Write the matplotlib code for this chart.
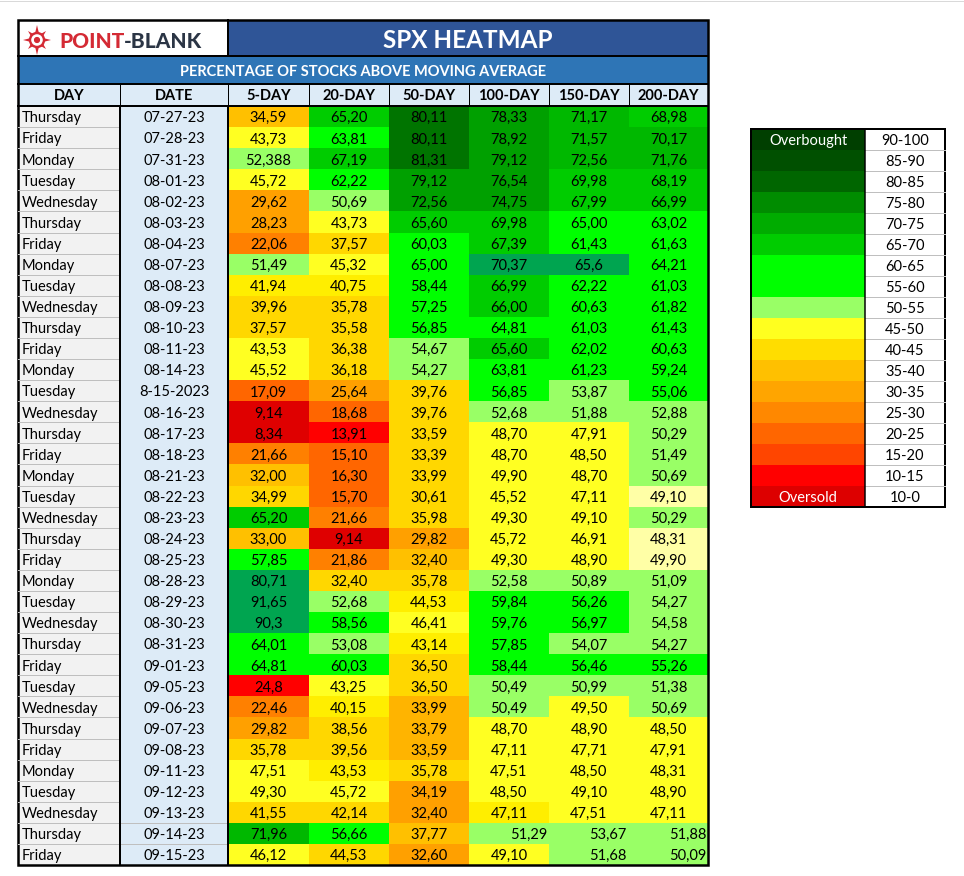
import matplotlib
matplotlib.use("Agg")
import matplotlib.pyplot as plt
from matplotlib.patches import Rectangle, Circle, Polygon

plt.rcParams['font.family'] = ['Lato', 'DejaVu Sans']

# ---- data ----
days = ["Thursday", "Friday", "Monday", "Tuesday", "Wednesday", "Thursday", "Friday",
        "Monday", "Tuesday", "Wednesday", "Thursday", "Friday", "Monday", "Tuesday",
        "Wednesday", "Thursday", "Friday", "Monday", "Tuesday", "Wednesday", "Thursday",
        "Friday", "Monday", "Tuesday", "Wednesday", "Thursday", "Friday", "Tuesday",
        "Wednesday", "Thursday", "Friday", "Monday", "Tuesday", "Wednesday", "Thursday",
        "Friday"]
dates = ["07-27-23", "07-28-23", "07-31-23", "08-01-23", "08-02-23", "08-03-23", "08-04-23",
         "08-07-23", "08-08-23", "08-09-23", "08-10-23", "08-11-23", "08-14-23", "8-15-2023",
         "08-16-23", "08-17-23", "08-18-23", "08-21-23", "08-22-23", "08-23-23", "08-24-23",
         "08-25-23", "08-28-23", "08-29-23", "08-30-23", "08-31-23", "09-01-23", "09-05-23",
         "09-06-23", "09-07-23", "09-08-23", "09-11-23", "09-12-23", "09-13-23", "09-14-23",
         "09-15-23"]
columns = ["5-DAY", "20-DAY", "50-DAY", "100-DAY", "150-DAY", "200-DAY"]

day5 = ["34,59", "43,73", "52,388", "45,72", "29,62", "28,23", "22,06", "51,49", "41,94",
        "39,96", "37,57", "43,53", "45,52", "17,09", "9,14", "8,34", "21,66", "32,00",
        "34,99", "65,20", "33,00", "57,85", "80,71", "91,65", "90,3", "64,01", "64,81",
        "24,8", "22,46", "29,82", "35,78", "47,51", "49,30", "41,55", "71,96", "46,12"]
day20 = ["65,20", "63,81", "67,19", "62,22", "50,69", "43,73", "37,57", "45,32", "40,75",
         "35,78", "35,58", "36,38", "36,18", "25,64", "18,68", "13,91", "15,10", "16,30",
         "15,70", "21,66", "9,14", "21,86", "32,40", "52,68", "58,56", "53,08", "60,03",
         "43,25", "40,15", "38,56", "39,56", "43,53", "45,72", "42,14", "56,66", "44,53"]
day50 = ["80,11", "80,11", "81,31", "79,12", "72,56", "65,60", "60,03", "65,00", "58,44",
         "57,25", "56,85", "54,67", "54,27", "39,76", "39,76", "33,59", "33,39", "33,99",
         "30,61", "35,98", "29,82", "32,40", "35,78", "44,53", "46,41", "43,14", "36,50",
         "36,50", "33,99", "33,79", "33,59", "35,78", "34,19", "32,40", "37,77", "32,60"]
day100 = ["78,33", "78,92", "79,12", "76,54", "74,75", "69,98", "67,39", "70,37", "66,99",
          "66,00", "64,81", "65,60", "63,81", "56,85", "52,68", "48,70", "48,70", "49,90",
          "45,52", "49,30", "45,72", "49,30", "52,58", "59,84", "59,76", "57,85", "58,44",
          "50,49", "50,49", "48,70", "47,11", "47,51", "48,50", "47,11", "51,29", "49,10"]
day150 = ["71,17", "71,57", "72,56", "69,98", "67,99", "65,00", "61,43", "65,6", "62,22",
          "60,63", "61,03", "62,02", "61,23", "53,87", "51,88", "47,91", "48,50", "48,70",
          "47,11", "49,10", "46,91", "48,90", "50,89", "56,26", "56,97", "54,07", "56,46",
          "50,99", "49,50", "48,90", "47,71", "48,50", "49,10", "47,51", "53,67", "51,68"]
day200 = ["68,98", "70,17", "71,76", "68,19", "66,99", "63,02", "61,63", "64,21", "61,03",
          "61,82", "61,43", "60,63", "59,24", "55,06", "52,88", "50,29", "51,49", "50,69",
          "49,10", "50,29", "48,31", "49,90", "51,09", "54,27", "54,58", "54,27", "55,26",
          "51,38", "50,69", "48,50", "47,91", "48,31", "48,90", "47,11", "51,88", "50,09"]
values = [day5, day20, day50, day100, day150, day200]

legend_ranges = ["90-100", "85-90", "80-85", "75-80", "70-75", "65-70", "60-65", "55-60",
                 "50-55", "45-50", "40-45", "35-40", "30-35", "25-30", "20-25", "15-20",
                 "10-15", "10-0"]

# ---- styling (cells were hand-filled in the sheet) ----
palette = {
    "dr": "#DF0000", "r": "#FF0000", "o3": "#FF6600", "o2": "#FF8000", "o1": "#FFA000",
    "ob": "#FFB400", "a": "#FFC000", "gd": "#FFD700", "y2": "#FFEE00", "y": "#FFFF22",
    "py": "#FFFFA6", "lg": "#99FF66", "bg": "#00FF00", "g1": "#00CC00", "g2": "#00B800",
    "g3": "#00A000", "g4": "#007400", "t": "#00A550",
}
fills = """a g1 g4 g3 g2 g1
y bg g4 g3 g2 g2
lg g1 g4 g3 g2 g2
y bg g3 g3 g1 g1
o1 lg g3 g3 g1 g1
o1 y g1 g1 bg bg
o2 gd bg g1 bg bg
lg y bg t t bg
y2 y2 bg g1 bg bg
gd gd bg g1 bg bg
gd gd bg bg bg bg
y gd lg g1 bg bg
y gd lg bg bg bg
o3 o1 gd bg lg bg
dr o3 gd lg lg lg
dr r gd y y lg
o2 o3 gd y y lg
a o3 gd y y lg
gd o3 gd y y py
g1 o2 gd y y lg
a dr o1 y y py
bg o2 a y y py
t gd gd lg lg lg
t lg y2 bg bg lg
t bg y bg bg lg
bg lg y2 bg lg lg
bg bg gd bg bg bg
r y gd lg lg lg
o2 y2 ob lg y lg
o1 gd ob y y y
gd gd ob y y y
y y2 gd y y y
y y o1 y y y
gd gd o1 y2 y y
g2 bg a lg lg lg
y gd o1 y lg lg"""
fill_grid = [line.split() for line in fills.splitlines()]
right_aligned = {(34, 3), (34, 4), (34, 5), (35, 4), (35, 5)}

legend_colors = ["#003F00", "#005000", "#006600", "#008C00", "#00AC00", "#00CC00",
                 "#00FF00", "#00FF00", "#99FF66", "#FFFF1F", "#FFDD00", "#FFC000",
                 "#FFA500", "#FF8800", "#FF6600", "#FF4500", "#FF0000", "#DD0000"]

W, H = 964, 876
fig = plt.figure(figsize=(W / 100, H / 100), dpi=100)
ax = fig.add_axes([0, 0, 1, 1])
ax.set_xlim(0, W)
ax.set_ylim(H, 0)
ax.axis("off")

def px(n):
    return n * 72 / 100

def box(x0, y0, x1, y1, color):
    ax.add_patch(Rectangle((x0, y0), x1 - x0, y1 - y0, facecolor=color,
                           edgecolor="none", lw=0, antialiased=False))

col_edges = [18, 120, 228, 309, 389, 469, 549, 629, 708]
top, title_bot, sub_bot, head_bot, body_bot = 20, 56, 84, 106, 865
n_rows = len(dates)
row_h = (body_bot - head_bot) / n_rows
fs = 10.5
dy_txt = 1.8

ax.plot([0, W], [1, 1], color="#D9D9D9", lw=px(1))

# title band
box(col_edges[0], top, col_edges[2], title_bot, "white")
box(col_edges[2], top, col_edges[-1], title_bot, "#2F5597")
ax.text((col_edges[2] + col_edges[-1]) / 2, 40, "SPX HEATMAP", color="white",
        fontsize=17.5, fontweight="bold", ha="center", va="center")
box(col_edges[0], title_bot, col_edges[-1], sub_bot, "#2E75B6")
ax.text((col_edges[0] + col_edges[-1]) / 2, 72, "PERCENTAGE OF STOCKS ABOVE MOVING AVERAGE",
        color="white", fontsize=10.5, fontweight="bold", ha="center", va="center")

# logo
cx, cy = 37, 40
red = "#D42A34"
for dx, dy in [(0, -15), (0, 15), (-14, 0), (14, 0)]:
    if dx == 0:
        pts = [(cx - 3.5, cy), (cx + 3.5, cy), (cx, cy + dy)]
    else:
        pts = [(cx, cy - 3.5), (cx, cy + 3.5), (cx + dx, cy)]
    ax.add_patch(Polygon(pts, closed=True, color=red, lw=0))
for dx, dy in [(1, 1), (1, -1), (-1, 1), (-1, -1)]:
    pts = [(cx + dx * 2.5, cy - dy * 2.5), (cx - dx * 2.5, cy + dy * 2.5),
           (cx + dx * 9, cy + dy * 9)]
    ax.add_patch(Polygon(pts, closed=True, color=red, lw=0))
ax.add_patch(Circle((cx, cy), 7, facecolor="white", edgecolor=red, lw=px(2.4)))
ax.add_patch(Circle((cx, cy), 2.4, color=red))
t1 = ax.text(59, 42, "POINT", color=red, fontsize=15, fontweight="black",
             ha="left", va="center")
fig.canvas.draw()
bb = t1.get_window_extent()
x_end = ax.transData.inverted().transform((bb.x1, bb.y0))[0]
ax.text(x_end, 42, "-BLANK", color="#2B3545", fontsize=15, fontweight="black",
        ha="left", va="center")

# header row
box(col_edges[0], sub_bot, col_edges[-1], head_bot, "#DDEBF7")
headers = ["DAY", "DATE"] + columns
for j, h in enumerate(headers):
    ax.text((col_edges[j] + col_edges[j + 1]) / 2, 96.5, h, fontsize=10.5,
            fontweight="bold", ha="center", va="center")

# body
box(col_edges[0], head_bot, col_edges[1], body_bot, "#F2F2F2")
box(col_edges[1], head_bot, col_edges[2], body_bot, "#DDEBF7")
for i in range(n_rows):
    y0 = head_bot + i * row_h
    yc = y0 + row_h / 2 + dy_txt
    ax.text(col_edges[0] + 4, yc, days[i], fontsize=fs, ha="left", va="center")
    ax.text((col_edges[1] + col_edges[2]) / 2, yc, dates[i], fontsize=fs,
            ha="center", va="center")
    for j in range(len(columns)):
        x0, x1 = col_edges[j + 2], col_edges[j + 3]
        box(x0, y0, x1, y0 + row_h + 0.6, palette[fill_grid[i][j]])
        if (i, j) in right_aligned:
            ax.text(x1 - 2, yc, values[j][i], fontsize=fs, ha="right", va="center")
        else:
            ax.text((x0 + x1) / 2, yc, values[j][i], fontsize=fs, ha="center", va="center")
    if i > 0:
        xr = col_edges[2] if i >= 34 else col_edges[1]
        ax.plot([col_edges[0], xr], [y0, y0], color="#BFBFBF", lw=px(1))

# borders
for y in [title_bot, sub_bot, head_bot]:
    ax.plot([col_edges[0], col_edges[-1]], [y, y], color="black", lw=px(2))
ax.plot([col_edges[2], col_edges[2]], [top, title_bot], color="black", lw=px(2))
for x in col_edges[1:-1]:
    ax.plot([x, x], [sub_bot, head_bot], color="black", lw=px(1))
for x in col_edges[1:3]:
    ax.plot([x, x], [head_bot, body_bot], color="black", lw=px(2))
ax.add_patch(Rectangle((col_edges[0], top), col_edges[-1] - col_edges[0], body_bot - top,
                       fill=False, edgecolor="black", lw=px(2.5)))

# legend
lx0, lx1, lx2 = 751, 865, 945
ly0, ly1 = 129, 507
lh = (ly1 - ly0) / len(legend_ranges)
for k, (rng, c) in enumerate(zip(legend_ranges, legend_colors)):
    y0 = ly0 + k * lh
    box(lx0, y0, lx1, y0 + lh + 0.6, c)
    box(lx1, y0, lx2, y0 + lh, "white")
    if k > 0:
        ax.plot([lx1, lx2], [y0, y0], color="#BFBFBF", lw=px(1))
    ax.text((lx1 + lx2) / 2, y0 + lh / 2 + dy_txt, rng, fontsize=fs, ha="center", va="center")
ax.text((lx0 + lx1) / 2, ly0 + lh / 2 + dy_txt, "Overbought", color="white", fontsize=fs,
        ha="center", va="center")
ax.text((lx0 + lx1) / 2, ly1 - lh / 2 + dy_txt, "Oversold", color="white", fontsize=fs,
        ha="center", va="center")
ax.plot([lx1, lx1], [ly0, ly1], color="black", lw=px(1.5))
ax.add_patch(Rectangle((lx0, ly0), lx2 - lx0, ly1 - ly0, fill=False,
                       edgecolor="black", lw=px(2)))

fig.savefig("out.png", dpi=100)
